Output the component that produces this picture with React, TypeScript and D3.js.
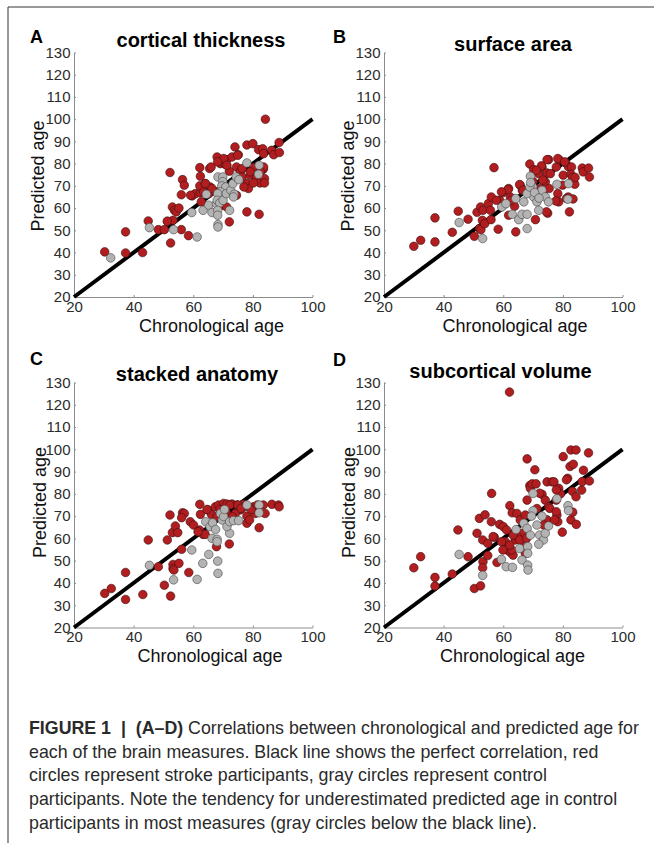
import React, { useEffect, useRef } from 'react'
import * as d3 from 'd3'

type Pt = [number, number]

// chronological age, predicted age
const thicknessStroke: Pt[] = [
  [30.3, 40.3], [37.3, 49.3], [37.3, 39.8], [43, 40], [44.9, 54.2], [48.3, 50.3], [50.3, 50.3], [51.4, 54],
  [52.2, 76], [52.4, 44.3], [53, 60.5], [53.7, 59], [54.3, 58.3], [55.2, 60], [53.2, 54.5], [56, 50.3],
  [56.4, 72.8], [57, 70.3], [56, 66], [58.4, 47.6], [59.6, 65.5], [60.7, 66.5], [62.4, 66.8], [62.2, 78.2],
  [62.4, 74.3], [62.2, 70], [63.5, 67.3], [62.7, 62.8], [65.5, 77.8], [66, 78.5], [64, 71], [65.7, 69.5],
  [66.9, 67.7], [68, 83], [69.1, 80], [71.3, 81.8], [70.8, 79.6], [73, 83], [74, 87.5], [75.1, 84],
  [72.1, 76.6], [72.1, 53.8], [70, 61.3], [71.2, 60.5], [74.5, 78.5], [75.8, 76.6], [76.4, 74], [74.5, 65.8],
  [78, 71], [78.5, 68.8], [79.1, 74.8], [78, 58.3], [82.1, 57.2], [78, 88.4], [80, 89], [81.9, 86.3],
  [83.3, 86.7], [83.6, 84.5], [84.2, 100], [86.3, 86], [87, 84], [88.8, 89.5], [88.9, 85], [80.2, 78.2],
  [79.1, 76.3], [81.3, 74], [82.4, 71.3], [83.5, 77.5], [83.9, 73.3], [83.9, 71.3], [80.2, 71.3], [76.4, 77.8],
  [77, 69.5], [70.2, 82.3], [74.9, 83.8], [71.3, 79.3], [51.3, 54.1], [59.1, 65.8], [64.1, 71], [65.2, 66.5],
  [66.3, 68.8], [68.2, 80.8], [83.6, 78.5], [82.5, 76.3],
]
const thicknessControl: Pt[] = [
  [32.3, 37.6], [45.3, 51.2], [53.4, 50.3], [59.5, 58], [61.3, 47], [63.3, 59], [64.4, 66.2], [65.2, 61.3],
  [66.3, 58], [67.8, 62], [68.3, 74], [69.9, 74], [69.9, 71.9], [69.6, 70], [70.9, 69.5], [69.1, 67.3],
  [68.2, 66.5], [68, 63.5], [68.9, 62.3], [70, 63.5], [68.2, 59], [68.2, 56.8], [68.3, 52.6], [68.3, 51.5],
  [72.2, 59], [71.1, 66.5], [72.6, 68], [73.7, 66.2], [73.5, 65], [73.3, 71], [74.4, 74], [75.3, 72.8],
  [78, 80.3], [82.1, 79.3], [81.9, 75.2],
]

const areaStroke: Pt[] = [
  [30, 42.8], [32.3, 45.5], [37.1, 55.6], [37.1, 44.8], [42.9, 49.1], [44.9, 58.6], [48.2, 55], [50.3, 47.3],
  [51.2, 58.1], [52.4, 60.5], [53.2, 59], [52, 50.8], [52.5, 50.3], [53, 54.5], [53.8, 53], [55, 62],
  [56, 65], [55.7, 59], [55.9, 54.8], [56.9, 78.2], [58.3, 50.5], [58.8, 63.5], [60, 67], [61.8, 68.8],
  [62.4, 65], [61.8, 56.8], [64.2, 49.3], [65.7, 70.3], [66.4, 68], [68.9, 79.8], [70.2, 77.3], [70.8, 54.8],
  [71.9, 75.5], [73, 78.5], [74.1, 71.8], [74.7, 75.8], [75.2, 81.8], [75.8, 75.5], [74.9, 57.7], [72.4, 68.8],
  [73.5, 65.8], [75.4, 68.8], [77.8, 78.5], [78.7, 81.8], [78.3, 66.5], [78.6, 62.8], [80.1, 74.8], [79.9, 70.3],
  [81, 80.3], [81.9, 78.5], [82.9, 78.5], [82.7, 75.2], [81.8, 65], [82.2, 58.3], [83.2, 73.8], [84, 70.7],
  [84.1, 73.8], [83.4, 64.1], [86.5, 78], [86.8, 76.3], [88.6, 78], [88.9, 74], [57.7, 63.5], [61.6, 68.3],
  [59.4, 67.3], [72.8, 79], [74.7, 81.8], [78.3, 82.3], [80.6, 80.8], [65.5, 70.6], [71.1, 77], [73.3, 72.6],
  [81.2, 64.3], [77.6, 63.2], [74.5, 58.3], [63.8, 60.8], [62.7, 63.5], [66.6, 68], [70, 72],
]
const areaControl: Pt[] = [
  [45.2, 53.5], [53.1, 46.3], [59.5, 60.5], [60.9, 62], [63, 57.2], [64.2, 64.3], [65.2, 54.8], [66.3, 57.2],
  [68, 57.2], [68, 50.8], [66.9, 62.8], [69.1, 74.3], [69.9, 69.5], [70.2, 65], [71.3, 62.8], [71.9, 59],
  [73, 68], [74.1, 65], [75.2, 62.8], [68, 66.5], [68.9, 69.5], [78, 70.7], [81.9, 71], [81.7, 64],
  [69.2, 71.5], [70.5, 67], [72, 64.5],
]

const stackedStroke: Pt[] = [
  [30.3, 35.3], [32.5, 37.5], [37.3, 44.7], [37.3, 32.6], [43.1, 34.8], [44.9, 59.3], [48.3, 47.3], [50.3, 39],
  [51.3, 59.3], [52.2, 70.5], [52.4, 34.1], [53, 62.6], [54, 65.6], [54.8, 62.6], [53.2, 48.3], [53.2, 46.5],
  [53.5, 45.8], [55.2, 48.8], [56.1, 55.1], [56.4, 71.5], [57, 71.2], [56.1, 69.3], [58.5, 44.7], [59, 67.5],
  [60.1, 66], [62.2, 75.3], [62.4, 70.8], [62.1, 63.8], [63.3, 61.8], [64, 61.8], [64.9, 72.8], [66.1, 70.8],
  [67.4, 74.2], [68, 69.8], [67.8, 56.3], [72.1, 57.5], [68.5, 75], [70.2, 75.7], [71.3, 75.4], [73, 75.4],
  [74.7, 75], [76.7, 75.3], [75.8, 72.8], [74.1, 71.2], [73, 69.8], [78, 70], [78, 66.8], [78.9, 68.3],
  [80.2, 74.2], [80.8, 71.2], [82.1, 64.8], [83.5, 75], [84.1, 71.2], [86.4, 75.3], [88.6, 75], [88.8, 74.2],
  [61.6, 63], [64.6, 73], [72.2, 75], [77.2, 74.2], [75, 75], [69, 73], [71, 72], [76, 73.5],
  [79.5, 73], [81.5, 75],
]
const stackedControl: Pt[] = [
  [45.3, 47.9], [53.4, 41.4], [59.5, 54.8], [61.3, 41.6], [63.2, 48.8], [65.2, 52.8], [64.2, 67.5], [65.6, 65.3],
  [66.3, 60], [68, 59.6], [68, 58.5], [68.2, 49.8], [68.3, 44.3], [72.2, 62.3], [69.1, 71.2], [69.7, 68.3],
  [70.2, 69.8], [71.3, 65.3], [72.2, 67.5], [73.5, 68], [75.2, 68], [78, 75], [82.1, 75], [82.1, 71.5],
  [66.5, 67], [67.5, 64], [70.5, 73],
]

const subcorticalStroke: Pt[] = [
  [30, 46.8], [32.3, 51.8], [37.1, 42.5], [37.1, 38.6], [42.9, 44], [44.8, 63.8], [48.2, 51.8], [50.3, 37.5],
  [51.2, 62.3], [52, 69], [52.4, 38.7], [53.1, 59.3], [53.2, 49.5], [53.1, 46.8], [53.9, 70.6], [56, 67.5],
  [56.1, 80.2], [54.8, 57.8], [54.8, 52.3], [57, 60.5], [57.9, 49.2], [58.8, 66.3], [60, 65.3], [60.2, 58.6],
  [62.1, 125.7], [62.2, 74.7], [63, 71.5], [63.7, 62.3], [61.3, 54.8], [62.4, 53.7], [63.3, 52.5], [64.6, 71.2],
  [65.7, 68.3], [66.3, 62.3], [67.4, 70.5], [68, 95.7], [68, 77.2], [68.9, 83.7], [69.1, 82.5], [69.7, 84.5],
  [70.6, 90.8], [71, 84.5], [71.3, 73.4], [73, 79.8], [74.7, 85.4], [76.4, 85.4], [74.1, 77.2], [75.2, 74.2],
  [74.7, 68.3], [73.5, 66], [77, 85.4], [78.6, 82.5], [78, 70.5], [78.3, 67.5], [79.8, 62.8], [79.2, 80],
  [80.1, 96.7], [81.6, 87], [82.4, 92.3], [82.7, 99.7], [83.5, 93.3], [84.4, 99.7], [83.2, 81.2], [82.7, 68.3],
  [84.5, 66.3], [84.4, 78.7], [86.3, 81.7], [86.9, 90.6], [86.5, 85.5], [88.6, 98.4], [88.9, 85.8], [83.3, 71.8],
  [60.7, 58.5], [64, 59.3], [64.6, 60.9], [66.9, 56.3], [67.4, 53.3], [56.6, 60.8], [59.4, 58.5], [62.8, 54.8],
  [62.2, 57], [63.3, 61.5], [61.1, 63.8], [65.5, 59.3], [67.8, 60], [59.9, 54.8], [72.2, 80.3], [77.8, 81.8],
  [81.2, 86.3], [77.8, 77.2], [75.6, 73.5], [77.8, 72], [77.2, 68.3],
]
const subcorticalControl: Pt[] = [
  [45.2, 52.8], [53.1, 43.4], [59.4, 50.6], [61, 47.3], [63.1, 47], [64.3, 64], [65.5, 55.5], [66.3, 50.3],
  [66.9, 66.8], [68.2, 56.3], [68.2, 53.3], [68.2, 48], [68.3, 45.8], [68, 64.5], [69.1, 61.5], [70, 80.2],
  [70, 72.4], [71.3, 66], [72.2, 61.5], [73, 70], [73.5, 59.3], [74.1, 62.3], [75.2, 65.6], [78, 77.8],
  [81.7, 74.7], [81.9, 72.5], [71.9, 57.4], [69.5, 70],
]

const xTicks = [20, 40, 60, 80, 100]
const yTicks = [20, 30, 40, 50, 60, 70, 80, 90, 100, 110, 120, 130]
const identity: Pt[] = [[20, 20], [100, 100]]

const captionLead = 'FIGURE 1\u00a0\u00a0|\u00a0\u00a0(A–D)\u00a0'
const captionLines = [
  'Correlations between chronological and predicted age for',
  'each of the brain measures. Black line shows the perfect correlation, red',
  'circles represent stroke participants, gray circles represent control',
  'participants. Note the tendency for underestimated predicted age in control',
  'participants in most measures (gray circles below the black line).',
]

const panels = [
  { key: 'A', title: 'cortical thickness', red: thicknessStroke, gray: thicknessControl,
    left: 74, right: 312.5, top: 52.5, bottom: 297, titleX: 201, titleY: 46.5, letterX: 30, letterY: 43,
    xlabX: 211.5, xlabY: 331.5, ylabX: 44, ylabY: 176 },
  { key: 'B', title: 'surface area', red: areaStroke, gray: areaControl,
    left: 384, right: 622.5, top: 52.5, bottom: 297, titleX: 513, titleY: 51, letterX: 333, letterY: 43,
    xlabX: 515, xlabY: 331.5, ylabX: 354, ylabY: 176 },
  { key: 'C', title: 'stacked anatomy', red: stackedStroke, gray: stackedControl,
    left: 74, right: 312.5, top: 382.5, bottom: 627.5, titleX: 197, titleY: 381, letterX: 30, letterY: 365,
    xlabX: 210, xlabY: 662, ylabX: 45.5, ylabY: 502.5 },
  { key: 'D', title: 'subcortical volume', red: subcorticalStroke, gray: subcorticalControl,
    left: 384, right: 622.5, top: 382.5, bottom: 627.5, titleX: 500.5, titleY: 377.5, letterX: 333, letterY: 366,
    xlabX: 512.5, xlabY: 661.5, ylabX: 355, ylabY: 502.5 },
]

const width = 654
const height = 843
const font = '"Liberation Sans", Arial, Helvetica, sans-serif'

export default function App() {
  const chart = useRef<SVGSVGElement>(null)

  useEffect(() => {
    const svg = d3.select(chart.current)
    svg.selectAll('*').remove()

    // figure frame (top + left edge)
    svg.append('path')
      .attr('d', `M8,${height} V7 H${width}`)
      .attr('fill', 'none')
      .attr('stroke', '#333')
      .attr('stroke-width', 1)

    panels.forEach(p => {
      const x = d3.scaleLinear().domain([20, 100]).range([p.left, p.right])
      const y = d3.scaleLinear().domain([20, 130]).range([p.bottom, p.top])
      const g = svg.append('g')

      g.append('g')
        .attr('transform', `translate(0,${p.bottom})`)
        .call(d3.axisBottom(x).tickValues(xTicks).tickSize(-2).tickPadding(4).tickSizeOuter(0))
      g.append('g')
        .attr('transform', `translate(${p.left},0)`)
        .call(d3.axisLeft(y).tickValues(yTicks).tickSize(-2).tickPadding(3.5).tickSizeOuter(0))
      g.selectAll('.domain, .tick line').attr('stroke', '#8c8c8c')
      g.selectAll('.tick text').attr('fill', '#2b2b2b').attr('font-size', 15).attr('font-family', font)

      g.append('path')
        .datum(identity)
        .attr('fill', 'none')
        .attr('stroke', '#000')
        .attr('stroke-width', 4)
        .attr('d', d3.line<Pt>().x(d => x(d[0])).y(d => y(d[1])))

      g.append('g').selectAll('circle')
        .data(p.red)
        .join('circle')
        .attr('cx', d => x(d[0]))
        .attr('cy', d => y(d[1]))
        .attr('r', 4.3)
        .attr('fill', '#b21d20')
        .attr('stroke', '#3b1111')
        .attr('stroke-width', 0.6)

      g.append('g').selectAll('circle')
        .data(p.gray)
        .join('circle')
        .attr('cx', d => x(d[0]))
        .attr('cy', d => y(d[1]))
        .attr('r', 4.3)
        .attr('fill', '#b3b3b3')
        .attr('stroke', '#444')
        .attr('stroke-width', 0.6)

      g.append('text')
        .attr('x', p.letterX).attr('y', p.letterY)
        .attr('font-family', font).attr('font-weight', 'bold').attr('font-size', 18)
        .text(p.key)
      g.append('text')
        .attr('x', p.titleX).attr('y', p.titleY)
        .attr('text-anchor', 'middle')
        .attr('font-family', font).attr('font-weight', 'bold').attr('font-size', 20)
        .text(p.title)
      g.append('text')
        .attr('x', p.xlabX).attr('y', p.xlabY)
        .attr('text-anchor', 'middle')
        .attr('font-family', font).attr('font-size', 18).attr('fill', '#111')
        .text('Chronological age')
      g.append('text')
        .attr('transform', `translate(${p.ylabX},${p.ylabY}) rotate(-90)`)
        .attr('text-anchor', 'middle')
        .attr('font-family', font).attr('font-size', 18).attr('fill', '#111')
        .text('Predicted age')
    })

    const caption = svg.append('g')
      .attr('font-family', font)
      .attr('font-size', 17.8)
      .attr('fill', '#2a2a2a')
    captionLines.forEach((line, i) => {
      const t = caption.append('text').attr('x', 29).attr('y', 734 + i * 23.7)
      if (i === 0) {
        t.append('tspan').attr('font-weight', 'bold').text(captionLead)
      }
      t.append('tspan').text(line)
    })
  }, [])

  return (
    <svg ref={chart} width={width} height={height}
      style={{ position: 'absolute', left: 0, top: 0, background: '#fff' }} />
  )
}
